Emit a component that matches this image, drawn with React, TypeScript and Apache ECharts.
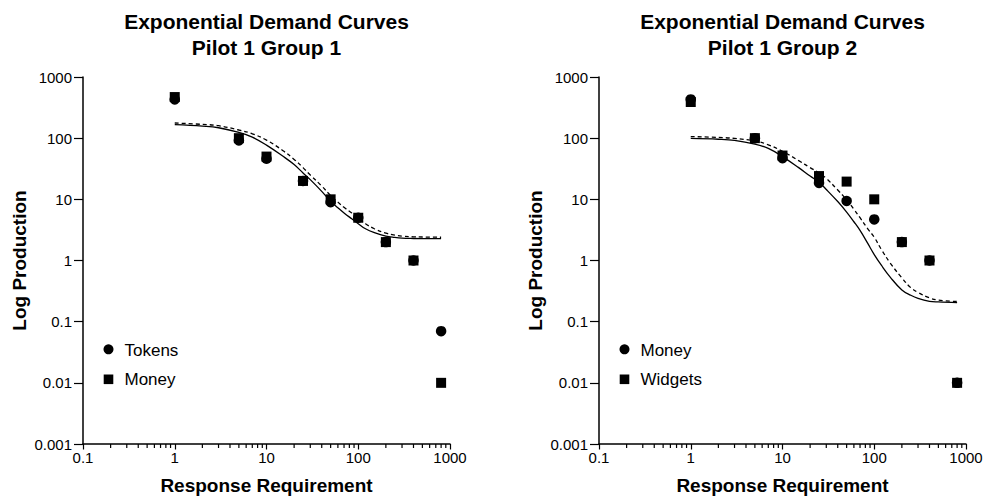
import React, { useEffect, useRef } from 'react';
import * as echarts from 'echarts';

// Observed data (response requirement on x)
const X_VALUES = [1, 5, 10, 25, 50, 100, 200, 400, 800];
const G1_TOKENS = [430, 92, 46, 20, 9, 5, 2, 1, 0.07];
const G1_MONEY = [470, 100, 50, 20, 10, 5, 2, 1, 0.01];
const G2_MONEY = [430, 100, 47, 18.5, 9.4, 4.7, 2, 1, 0.01];
const G2_WIDGETS = [390, 100, 52, 24, 19.5, 10, 2, 1, 0.01];

// Fitted demand curves
const FIT_X = [1, 2, 3, 5, 7, 10, 15, 20, 25, 30, 40, 50, 60, 70, 85, 100, 120, 150, 200, 250, 300, 400, 500, 800];
const G1_TOKENS_FIT = [166, 157, 148, 124, 104, 77, 51, 37, 27, 21, 13.5, 9.3, 7.3, 6, 4.8, 4, 3.3, 2.85, 2.5, 2.38, 2.32, 2.29, 2.28, 2.28];
const G1_MONEY_FIT = [177, 168, 160, 136, 118, 93, 63, 45, 33, 25, 16.5, 11.5, 9, 7.4, 6, 5, 4, 3.3, 2.8, 2.6, 2.5, 2.44, 2.42, 2.4];
const G2_MONEY_FIT = [99, 96, 92, 80, 68, 50, 33, 24, 19, 14.5, 9.2, 6.2, 4.3, 3.1, 1.9, 1.25, 0.83, 0.53, 0.33, 0.27, 0.24, 0.215, 0.21, 0.205];
const G2_WIDGETS_FIT = [106, 103, 99, 90, 78, 61, 43, 33, 27, 22, 14.2, 9.8, 6.9, 5, 3.3, 2.4, 1.5, 0.9, 0.52, 0.36, 0.3, 0.245, 0.225, 0.214];

const X_TICK_LABELS = ['0.1', '1', '10', '100', '1000'];
const Y_TICK_LABELS = ['0.001', '0.01', '0.1', '1', '10', '100', '1000'];
const X_MINOR_TICKS = [
  0.2, 0.3, 0.4, 0.5, 0.6, 0.7, 0.8, 0.9,
  2, 3, 4, 5, 6, 7, 8, 9,
  20, 30, 40, 50, 60, 70, 80, 90,
  200, 300, 400, 500, 600, 700, 800, 900,
];

const TITLE_1 = 'Exponential Demand Curves';
const SUBTITLES = ['Pilot 1 Group 1', 'Pilot 1 Group 2'];
const LEGENDS = [['Tokens', 'Money'], ['Money', 'Widgets']];
const X_NAME = 'Response Requirement';
const Y_NAME = 'Log Production';

const FONT = '"Liberation Sans", Arial, Helvetica, sans-serif';

const pair = (xs: number[], ys: number[]) => xs.map((x, i) => [x, ys[i]]);

export default function App() {
  const ref = useRef<HTMLDivElement>(null);

  useEffect(() => {
    document.body.style.margin = '0';
    if (!ref.current) return;
    const chart = echarts.init(ref.current, null, { renderer: 'svg' });

    const grids = [
      { left: 83, top: 77, width: 367, height: 367 },
      { left: 599, top: 77, width: 367, height: 367 },
    ];
    const centers = grids.map((g) => g.left + g.width / 2);

    const xAxes = grids.map((_, i) => ({
      type: 'log',
      logBase: 10,
      gridIndex: i,
      min: 0.1,
      max: 1000,
      axisLine: { show: true, onZero: false, lineStyle: { color: '#000', width: 1.5 } },
      axisTick: { show: true, length: 5.5, lineStyle: { color: '#000', width: 1.2 } },
      axisLabel: {
        color: '#000',
        fontSize: 15,
        fontFamily: FONT,
        margin: 6,
        formatter: (v: number) => X_TICK_LABELS[Math.round(Math.log10(v)) + 1] ?? '',
      },
      splitLine: { show: false },
      minorTick: { show: false },
      minorSplitLine: { show: false },
    }));

    const yAxes = grids.map((_, i) => ({
      type: 'log',
      logBase: 10,
      gridIndex: i,
      min: 0.001,
      max: 1000,
      axisLine: { show: true, onZero: false, lineStyle: { color: '#000', width: 1.5 } },
      axisTick: { show: true, length: 9, lineStyle: { color: '#000', width: 1.2 } },
      axisLabel: {
        color: '#000',
        fontSize: 15,
        fontFamily: FONT,
        margin: 11,
        formatter: (v: number) => Y_TICK_LABELS[Math.round(Math.log10(v)) + 3] ?? '',
      },
      splitLine: { show: false },
      minorTick: { show: false },
      minorSplitLine: { show: false },
    }));

    const scatter = (g: number, ys: number[], symbol: string, z: number) => ({
      type: 'scatter',
      xAxisIndex: g,
      yAxisIndex: g,
      symbol,
      symbolSize: symbol === 'rect' ? 10 : 10.5,
      data: pair(X_VALUES, ys),
      itemStyle: { color: '#000', opacity: 1 },
      silent: true,
      z,
    });

    const fit = (g: number, ys: number[], dashed: boolean) => ({
      type: 'line',
      xAxisIndex: g,
      yAxisIndex: g,
      data: pair(FIT_X, ys),
      showSymbol: false,
      symbol: 'none',
      smooth: 0.4,
      lineStyle: { color: '#000', width: 1.3, type: dashed ? [4, 3] : 'solid', opacity: 1 },
      silent: true,
      z: 2,
    });

    const minorTicks = (g: number) => ({
      type: 'custom',
      xAxisIndex: g,
      yAxisIndex: g,
      data: X_MINOR_TICKS.map((v) => [v, 0.001]),
      clip: false,
      silent: true,
      z: 5,
      renderItem: (_params: any, api: any) => {
        const p = api.coord([api.value(0), api.value(1)]);
        return {
          type: 'line',
          shape: { x1: p[0], y1: p[1], x2: p[0], y2: p[1] + 4 },
          style: { stroke: '#000', lineWidth: 1.2 },
        };
      },
    });

    const graphics: any[] = [];
    grids.forEach((g, i) => {
      const cx = centers[i];
      graphics.push(
        {
          type: 'text', x: cx, y: 21,
          style: { text: TITLE_1, fill: '#000', font: `bold 21px ${FONT}`, textAlign: 'center', textVerticalAlign: 'middle' },
        },
        {
          type: 'text', x: cx, y: 47,
          style: { text: SUBTITLES[i], fill: '#000', font: `bold 21px ${FONT}`, textAlign: 'center', textVerticalAlign: 'middle' },
        },
        {
          type: 'text', x: cx, y: 485,
          style: { text: X_NAME, fill: '#000', font: `bold 19px ${FONT}`, textAlign: 'center', textVerticalAlign: 'middle' },
        },
        {
          type: 'text', x: g.left - 63.5, y: g.top + g.height / 2, rotation: Math.PI / 2,
          style: { text: Y_NAME, fill: '#000', font: `bold 19px ${FONT}`, textAlign: 'center', textVerticalAlign: 'middle' },
        },
      );
      const lx = g.left + 25.5;
      graphics.push(
        { type: 'circle', shape: { cx: lx, cy: 349.3, r: 5 }, style: { fill: '#000' } },
        { type: 'rect', shape: { x: lx - 4.8, y: 374.5, width: 9.6, height: 9.6 }, style: { fill: '#000' } },
        {
          type: 'text', x: lx + 16, y: 350,
          style: { text: LEGENDS[i][0], fill: '#000', font: `17px ${FONT}`, textAlign: 'left', textVerticalAlign: 'middle' },
        },
        {
          type: 'text', x: lx + 16, y: 379,
          style: { text: LEGENDS[i][1], fill: '#000', font: `17px ${FONT}`, textAlign: 'left', textVerticalAlign: 'middle' },
        },
      );
    });

    chart.setOption({
      animation: false,
      backgroundColor: '#fff',
      grid: grids.map((g) => ({ ...g, containLabel: false, outerBoundsMode: 'none' })),
      xAxis: xAxes,
      yAxis: yAxes,
      series: [
        fit(0, G1_TOKENS_FIT, false),
        fit(0, G1_MONEY_FIT, true),
        scatter(0, G1_TOKENS, 'circle', 3),
        scatter(0, G1_MONEY, 'rect', 4),
        minorTicks(0),
        fit(1, G2_MONEY_FIT, false),
        fit(1, G2_WIDGETS_FIT, true),
        scatter(1, G2_MONEY, 'circle', 3),
        scatter(1, G2_WIDGETS, 'rect', 4),
        minorTicks(1),
      ],
      graphic: graphics,
    });

    return () => chart.dispose();
  }, []);

  return <div ref={ref} style={{ width: 987, height: 499 }} />;
}
